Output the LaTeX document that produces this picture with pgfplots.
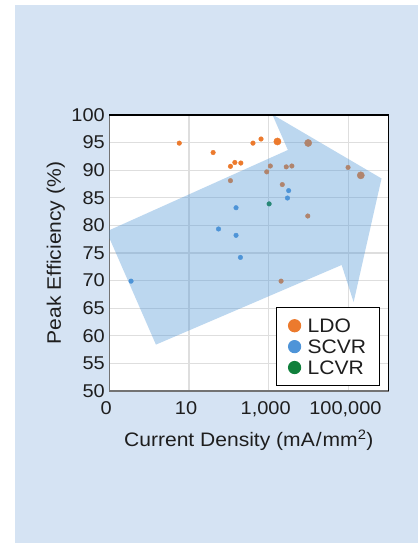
\documentclass[border=0pt]{standalone}
\usepackage{pgfplots}
\pgfplotsset{compat=1.18}
\usepackage{fontspec}
\setmainfont{Liberation Sans}[FakeStretch=1.08]

\definecolor{panel}{RGB}{213,227,243}
\definecolor{ldo}{RGB}{236,122,45}
\definecolor{scvr}{RGB}{78,148,216}
\definecolor{lcvr}{RGB}{16,128,60}
\definecolor{trend}{RGB}{80,150,215}
\definecolor{gridgray}{RGB}{222,222,222}
\definecolor{txt}{RGB}{30,30,30}

\begin{document}
\begin{tikzpicture}
\fill[white] (0,0) rectangle (418bp,543bp);
\fill[panel] (15bp,0) rectangle (418bp,538bp);
\useasboundingbox (0,0) rectangle (418bp,543bp);
\begin{axis}[
  at={(109.3bp,152bp)}, anchor=south west,
  scale only axis, width=279bp, height=276bp,
  xmin=-1, xmax=6, ymin=50, ymax=100,
  xtick={-1,1,3,5},
  xticklabels={0,10,{1,000},{100,000}},
  ytick={50,55,...,100},
  /pgf/number format/assume math mode=true,
  major tick length=0pt,
  grid=major,
  major grid style={gridgray, line width=1.1bp},
  axis line style={draw=black!55, line width=1.5bp},
  axis background/.style={fill=white},
  clip marker paths=true,
  tick label style={txt, font=\fontsize{18.5bp}{22bp}\selectfont},
  xticklabel style={anchor=base, yshift=-24bp, xshift=-3bp},
  yticklabel style={anchor=east, xshift=-1bp},
  label style={txt, font=\fontsize{19.5bp}{23bp}\selectfont},
  xlabel={Current Density (mA\kern1pt/\kern1pt mm\textsuperscript{2})},
  ylabel={Peak Efficiency (\%)},
  xlabel style={at={(axis description cs:0.5,-0.202)}, anchor=base},
  ylabel style={at={(axis description cs:-0.174,0.5)}, anchor=base},
  legend image code/.code={
    \draw[#1] plot coordinates {(6.5bp,0bp)};
    \path[draw=none, fill=none] (0bp,0bp) -- (17.5bp,0bp);
  },
  legend cell align=left,
  legend style={at={(axis description cs:0.971,0.018)}, anchor=south east,
    draw=black, line width=1.2bp, fill=white,
    inner xsep=11.5bp, inner ysep=8.9bp, row sep=2.9bp,
    font=\fontsize{19.5bp}{23bp}\selectfont,
    nodes={inner sep=2bp, text height=14bp, text depth=0bp, text=txt}},
  after end axis/.code={
    \draw[black, line width=1.5bp] (rel axis cs:0,1) -- (rel axis cs:1,1) -- (rel axis cs:1,0);
  },
]

% legend entries
\addlegendimage{only marks, mark=*, color=ldo, mark size=6bp}
\addlegendentry{LDO}
\addlegendimage{only marks, mark=*, color=scvr, mark size=6bp}
\addlegendentry{SCVR}
\addlegendimage{only marks, mark=*, color=lcvr, mark size=6bp}
\addlegendentry{LCVR}

% LDO designs (x = log10 of current density)
\addplot[forget plot, only marks, mark=*, color=ldo, mark size=2.3bp] coordinates {
  (0.756,94.9) (1.605,93.2) (2.04,90.7) (2.15,91.4) (2.30,91.3)
  (2.605,94.9) (2.807,95.65)
  (2.04,88.1) (3.04,90.76) (2.95,89.7) (3.44,90.6) (3.58,90.76)
  (3.34,87.4) (3.98,81.7) (3.31,69.9) (4.99,90.5)
};
\addplot[forget plot, only marks, mark=*, color=ldo, mark size=3.6bp] coordinates {
  (3.218,95.2) (3.99,94.93) (5.31,89.07)
};
% switched-capacitor designs
\addplot[forget plot, only marks, mark=*, color=scvr, mark size=2.3bp] coordinates {
  (-0.454,69.9) (1.74,79.35) (2.18,83.2) (2.18,78.2) (2.29,74.2)
  (3.50,86.3) (3.47,84.96)
};
% inductive design
\addplot[forget plot, only marks, mark=*, color=lcvr, mark size=2.3bp] coordinates {
  (3.01,83.9)
};

% trend arrow laid over the points
\addplot[forget plot, draw=none, fill=trend, fill opacity=0.38] coordinates {
  (-1.07,78.9) (3.48,93.66) (3.09,100.1) (5.83,88.5)
  (5.13,66.1) (4.83,72.83) (0.17,58.4)
} -- cycle;

\end{axis}
\end{tikzpicture}
\end{document}
